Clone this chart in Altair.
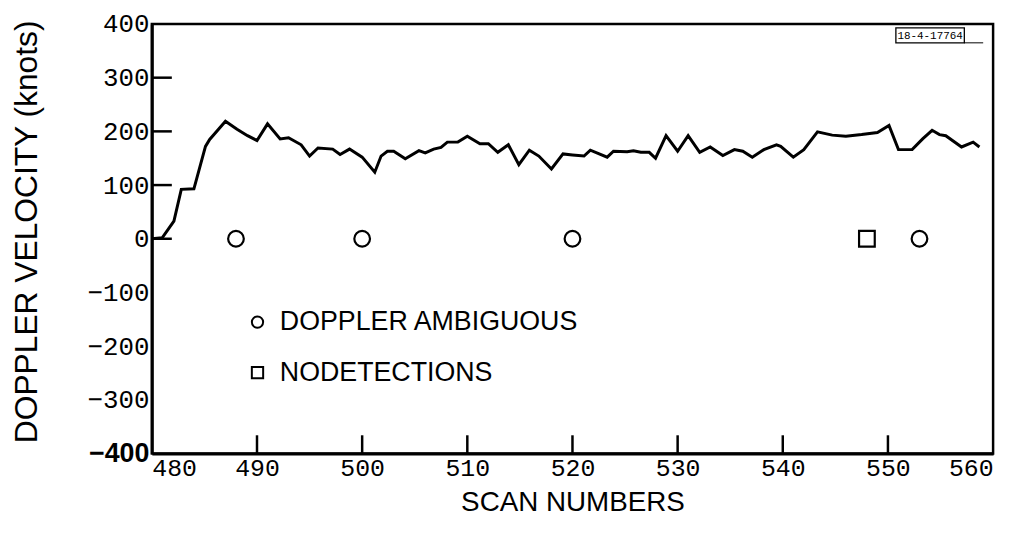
import altair as alt
import pandas as pd

# ---- data ----
scan = [480.0, 481.0, 482.1, 482.8, 484.0, 485.1, 485.5, 487.0, 488.1, 489.1,
        490.0, 491.0, 492.2, 493.0, 494.2, 495.0, 495.8, 497.2, 497.9, 498.8,
        500.0, 501.2, 501.8, 502.4, 503.0, 504.1, 505.4, 506.0, 506.8, 507.5,
        508.1, 509.1, 510.0, 511.2, 512.0, 512.9, 513.9, 514.9, 515.9, 516.8,
        518.0, 519.1, 520.0, 521.1, 521.7, 523.3, 523.9, 525.2, 525.8, 526.5,
        527.3, 527.9, 528.9, 530.0, 531.0, 532.1, 533.1, 534.3, 535.4, 536.2,
        537.1, 538.2, 539.4, 539.8, 541.0, 542.0, 543.3, 544.7, 546.0, 547.5,
        549.0, 550.1, 551.0, 552.3, 553.3, 554.2, 554.9, 555.5, 557.0, 558.1,
        558.7]
velocity = [0, 2, 33, 92, 93, 172, 185, 219, 204, 192,
            183, 214, 186, 188, 175, 154, 169, 167, 157, 167,
            152, 124, 154, 163, 163, 149, 164, 160, 167, 170,
            180, 180, 191, 177, 177, 161, 175, 138, 165, 154,
            130, 158, 156, 154, 165, 152, 163, 162, 164, 161,
            161, 150, 192, 163, 192, 161, 171, 155, 166, 163,
            152, 166, 175, 172, 152, 166, 199, 193, 191, 194,
            198, 211, 166, 166, 186, 202, 194, 192, 171, 180,
            171]

marker_scan = [488, 500, 520, 553, 548]
marker_vel = [0, 0, 0, 0, 0]
marker_kind = ["DOPPLER AMBIGUOUS", "DOPPLER AMBIGUOUS", "DOPPLER AMBIGUOUS",
               "DOPPLER AMBIGUOUS", "NODETECTIONS"]
kinds = ["DOPPLER AMBIGUOUS", "NODETECTIONS"]

x_ticks = [480, 490, 500, 510, 520, 530, 540, 550, 560]
y_ticks = [-400, -300, -200, -100, 0, 100, 200, 300, 400]
x_inner_ticks = [490, 500, 510, 520, 530, 540, 550]
y_inner_ticks = [0, 100, 200, 300]
stamp_text = ["18-4-17764"]

# styling constants: inward tick lengths in axis units
X_TICK_LEN = 34      # knots (~18 px)
Y_TICK_LEN = 1.9     # scans (~20 px)

line_df = pd.DataFrame({"scan": scan, "velocity": velocity})
mark_df = pd.DataFrame({"scan": marker_scan, "velocity": marker_vel, "kind": marker_kind})
xt_df = pd.DataFrame({"scan": x_inner_ticks,
                      "lo": [-400 for _ in x_inner_ticks],
                      "hi": [-400 + X_TICK_LEN for _ in x_inner_ticks]})
yt_df = pd.DataFrame({"v": y_inner_ticks,
                      "lo": [480 for _ in y_inner_ticks],
                      "hi": [480 + Y_TICK_LEN for _ in y_inner_ticks]})
stamp_df = pd.DataFrame({"t": stamp_text})

W, H = 848, 433
MONO = "Liberation Mono"
SANS = "Liberation Sans"

x_enc = alt.X("scan:Q", scale=alt.Scale(domain=[480, 560], nice=False, zero=False),
              axis=alt.Axis(values=x_ticks, title="SCAN NUMBERS", format="d",
                            grid=False, ticks=False, labelFlush=True,
                            labelFont=MONO, labelFontSize=25, labelColor="black",
                            labelPadding=2, domainColor="black", domainWidth=3,
                            titleFont=SANS, titleFontSize=28, titleFontWeight="normal",
                            titleColor="black", titlePadding=8))
y_enc = alt.Y("velocity:Q", scale=alt.Scale(domain=[-400, 400], nice=False, zero=False),
              axis=alt.Axis(values=y_ticks, title="DOPPLER VELOCITY (knots)",
                            grid=False, ticks=False,
                            labelFont={"condition": {"test": "datum.value == -400", "value": SANS}, "value": MONO},
                            labelFontSize={"condition": {"test": "datum.value == -400", "value": 27}, "value": 26},
                            labelFontWeight={"condition": {"test": "datum.value == -400", "value": "bold"}, "value": "normal"},
                            labelColor="black", labelPadding=3,
                            domainColor="black", domainWidth=3,
                            titleFont=SANS, titleFontSize=32, titleFontWeight="normal",
                            titleColor="black", titleX=-141, titleY=209,
                            titleBaseline="top", titleAngle=-90))

line = alt.Chart(line_df).mark_line(color="black", strokeWidth=3).encode(
    x=x_enc, y=y_enc, order="scan:Q")

# inward tick marks drawn as short rules through the same scales
xticks = alt.Chart(xt_df).mark_rule(stroke="black", strokeWidth=2.5).encode(
    x=alt.X("scan:Q"), y=alt.Y("lo:Q"), y2=alt.Y2("hi:Q"))
yticks = alt.Chart(yt_df).mark_rule(stroke="black", strokeWidth=2.5).encode(
    y=alt.Y("v:Q"), x=alt.X("lo:Q"), x2=alt.X2("hi:Q"))

markers = alt.Chart(mark_df).mark_point(filled=False, color="black", strokeWidth=2.2,
                                        size=250, opacity=1).encode(
    x="scan:Q", y="velocity:Q",
    shape=alt.Shape("kind:N",
                    scale=alt.Scale(domain=kinds, range=["circle", "square"]),
                    legend=alt.Legend(title=None, orient="none", legendX=93, legendY=287,
                                      labelFont=SANS, labelFontSize=27, labelColor="black",
                                      labelLimit=0,
                                      symbolSize=130, symbolStrokeWidth=2,
                                      symbolStrokeColor="black", symbolFillColor="white",
                                      rowPadding=23, labelOffset=9, padding=0)))

stamp_box = alt.Chart(stamp_df).mark_rect(fill="white", stroke="black", strokeWidth=1.3).encode(
    x=alt.value(750), x2=alt.value(819), y=alt.value(4), y2=alt.value(19))
stamp_line = alt.Chart(stamp_df).mark_rule(color="black", strokeWidth=1).encode(
    x=alt.value(819), x2=alt.value(838), y=alt.value(19), y2=alt.value(19))
stamp = alt.Chart(stamp_df).mark_text(font=MONO, fontSize=11, color="black").encode(
    text="t:N", x=alt.value(784.5), y=alt.value(12))

chart = alt.layer(line, markers, stamp_box, stamp_line, stamp, xticks, yticks).properties(
    width=W, height=H, autosize="none",
    padding={"left": 145, "top": 14, "right": 12, "bottom": 80},
    background="white"
).configure_view(stroke="black", strokeWidth=2.5)

chart.save("out.html", embed_options={"renderer": "svg", "actions": False})
